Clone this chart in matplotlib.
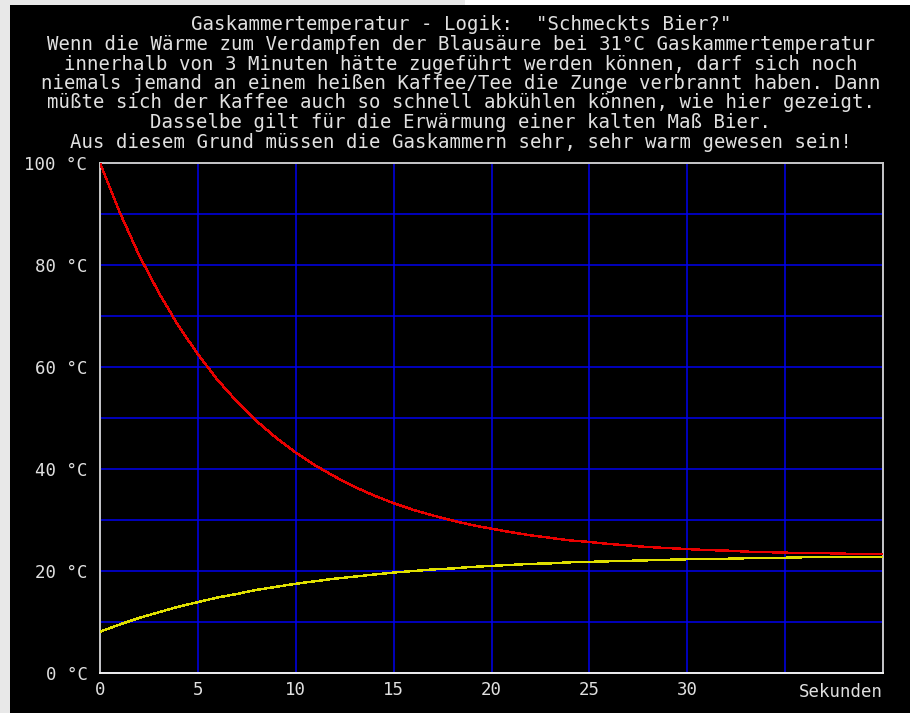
import matplotlib
matplotlib.use("Agg")
import matplotlib.pyplot as plt
from matplotlib.patches import Rectangle

# Data (Sekunden / °C)
t_sec = list(range(0, 41))
kaffee_temp = [100.0, 90.4, 81.9, 74.6, 68.1, 62.5, 57.5, 53.2, 49.4, 46.1,
               43.2, 40.7, 38.5, 36.5, 34.8, 33.3, 32.0, 30.9, 29.9, 29.0,
               28.3, 27.6, 27.0, 26.5, 26.0, 25.7, 25.3, 25.0, 24.7, 24.5,
               24.3, 24.1, 24.0, 23.8, 23.7, 23.6, 23.5, 23.5, 23.4, 23.3,
               23.3]
bier_temp = [8.1, 9.5, 10.8, 11.9, 13.0, 13.9, 14.8, 15.5, 16.3, 16.9,
             17.5, 18.0, 18.5, 18.9, 19.3, 19.7, 20.0, 20.3, 20.5, 20.8,
             21.0, 21.2, 21.4, 21.5, 21.7, 21.8, 21.9, 22.0, 22.1, 22.2,
             22.3, 22.4, 22.4, 22.5, 22.6, 22.6, 22.7, 22.7, 22.7, 22.8,
             22.8]

y_ticks = list(range(0, 101, 10))
y_labels = ["0 °C", "", "20 °C", "", "40 °C", "", "60 °C", "", "80 °C", "", "100 °C"]
x_ticks = list(range(0, 41, 5))
x_labels = ["0", "5", "10", "15", "20", "25", "30", "", ""]

title_lines = [
    'Gaskammertemperatur - Logik:  "Schmeckts Bier?"',
    "Wenn die Wärme zum Verdampfen der Blausäure bei 31°C Gaskammertemperatur",
    "innerhalb von 3 Minuten hätte zugeführt werden können, darf sich noch",
    "niemals jemand an einem heißen Kaffee/Tee die Zunge verbrannt haben. Dann",
    "müßte sich der Kaffee auch so schnell abkühlen können, wie hier gezeigt.",
    "Dasselbe gilt für die Erwärmung einer kalten Maß Bier.",
    "Aus diesem Grund müssen die Gaskammern sehr, sehr warm gewesen sein!",
]

W, H = 910, 713
FONT = "DejaVu Sans Mono"
C_TXT = "#e0e0e0"
C_GRID = "#0000f0"

fig = plt.figure(figsize=(W / 100, H / 100), dpi=100, facecolor="black")

# page strips around the screenshot
fig.patches.append(Rectangle((0, 0), 10 / W, 1, transform=fig.transFigure,
                             facecolor="#e8e8e8", edgecolor="none", zorder=5))
fig.patches.append(Rectangle((0, 1 - 5 / H), 465 / W, 5 / H, transform=fig.transFigure,
                             facecolor="#e8e8e8", edgecolor="none", zorder=5))
fig.patches.append(Rectangle((465 / W, 1 - 5 / H), 1 - 465 / W, 5 / H,
                             transform=fig.transFigure,
                             facecolor="white", edgecolor="none", zorder=5))

# title block
for i, line in enumerate(title_lines):
    y_px = 25 + i * 19.5
    fig.text(461 / W, 1 - y_px / H, line, ha="center", va="center",
             family=FONT, fontsize=13.7, color=C_TXT)

ax = fig.add_axes([100 / W, 40 / H, 783 / W, 510 / H], facecolor="black")
ax.set_xlim(0, 40)
ax.set_ylim(0, 100)
ax.set_axisbelow(True)

ax.plot(t_sec, kaffee_temp, color="#e80000", lw=1.0, antialiased=False, zorder=3)
ax.plot(t_sec, bier_temp, color="#e0e000", lw=1.0, antialiased=False, zorder=3)

ax.set_yticks(y_ticks)
ax.set_yticklabels(y_labels)
ax.set_xticks(x_ticks)
ax.set_xticklabels(x_labels)
ax.tick_params(length=0, colors=C_TXT, labelsize=12.5)
ax.tick_params(axis="y", pad=9)
ax.tick_params(axis="x", pad=6)
for lab in ax.get_xticklabels() + ax.get_yticklabels():
    lab.set_family(FONT)

ax.grid(True, color=C_GRID, lw=1.1)

for side in ["top", "right", "left"]:
    ax.spines[side].set_color("#c8c8c8")
    ax.spines[side].set_linewidth(1.4)
ax.spines["bottom"].set_color("#f0f0f0")
ax.spines["bottom"].set_linewidth(1.4)

ax.text(1.0, -18.7 / 510, "Sekunden", transform=ax.transAxes,
        ha="right", va="center", family=FONT, fontsize=12.5, color=C_TXT)

fig.savefig("out.png", dpi=100, facecolor="black")
